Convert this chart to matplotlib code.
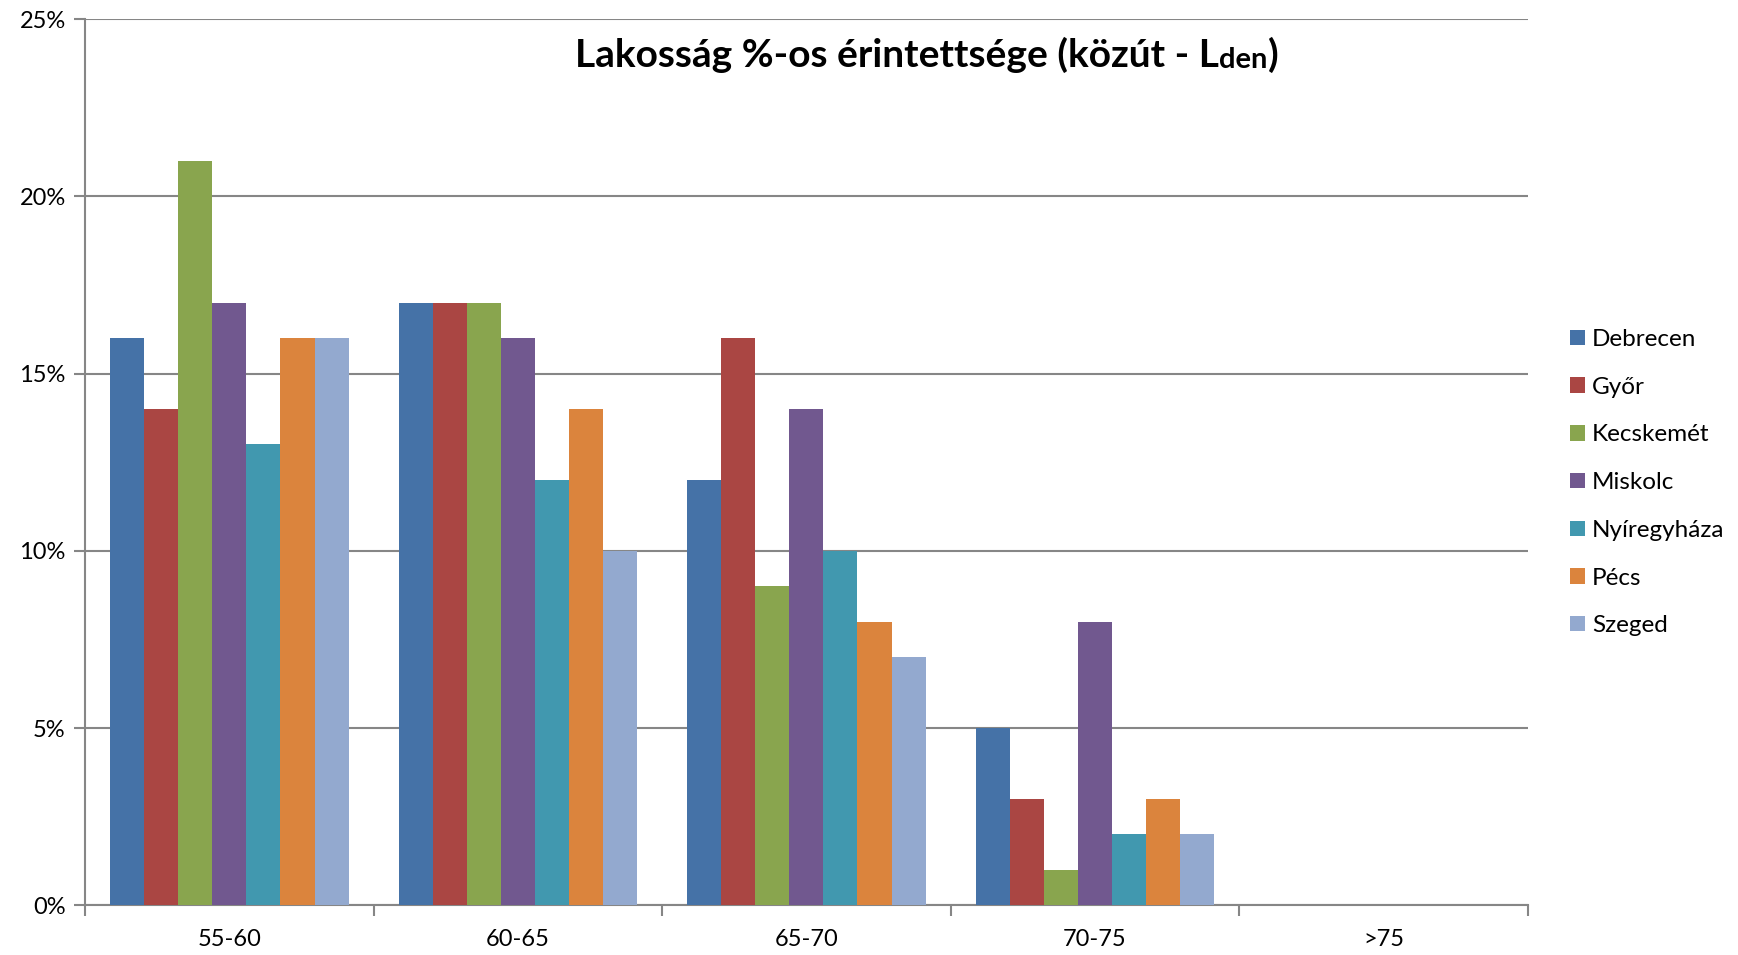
import matplotlib
matplotlib.use("Agg")
import matplotlib.pyplot as plt
import numpy as np

plt.rcParams["font.family"] = ["Lato", "DejaVu Sans"]

categories = ["55-60", "60-65", "65-70", "70-75", ">75"]
cities = ["Debrecen", "Győr", "Kecskemét", "Miskolc", "Nyíregyháza", "Pécs", "Szeged"]
values = {
    "Debrecen": [16, 17, 12, 5, 0],
    "Győr": [14, 17, 16, 3, 0],
    "Kecskemét": [21, 17, 9, 1, 0],
    "Miskolc": [17, 16, 14, 8, 0],
    "Nyíregyháza": [13, 12, 10, 2, 0],
    "Pécs": [16, 14, 8, 3, 0],
    "Szeged": [16, 10, 7, 2, 0],
}
colors = ["#4572A7", "#AA4643", "#89A54E", "#71588F", "#4198AF", "#DB843D", "#93A9CF"]

fig = plt.figure(figsize=(17.38, 9.55), dpi=100)
ax = fig.add_axes([0.049, 0.052, 0.830, 0.928])

x = np.arange(len(categories))
width = 0.118
for i, city in enumerate(cities):
    offs = (i - 3) * width
    ax.bar(x + offs, values[city], width, color=colors[i], label=city, zorder=3)

gray = "#868686"
ax.set_xlim(-0.5, len(categories) - 0.5)
ax.set_ylim(0, 25)
ax.set_yticks(range(0, 26, 5))
ax.set_yticklabels([f"{v}%" for v in range(0, 26, 5)], fontsize=17)
ax.yaxis.grid(True, color=gray, linewidth=1.5, zorder=0)
ax.set_xticks(x)
ax.set_xticklabels(categories, fontsize=17)
ax.set_xticks(np.arange(-0.5, len(categories)), minor=True)
ax.tick_params(axis="x", which="major", length=0, pad=17)
ax.tick_params(axis="x", which="minor", length=8, color=gray, width=1.5)
ax.tick_params(axis="y", length=8, color=gray, width=1.5, pad=6)
for s in ["top", "right"]:
    ax.spines[s].set_visible(False)
for s in ["left", "bottom"]:
    ax.spines[s].set_color(gray)
    ax.spines[s].set_linewidth(1.5)

# title with smaller "den"
t1 = fig.text(0.331, 0.930, "Lakosság %-os érintettsége (közút - L",
              fontsize=28, fontweight="bold", ha="left", va="baseline")
t2 = ax.annotate("den", xy=(1, 0), xycoords=t1, va="bottom", ha="left",
                 fontsize=21, fontweight="bold")
ax.annotate(")", xy=(1, 0), xycoords=t2, va="bottom", ha="left",
            fontsize=28, fontweight="bold")

ax.legend(loc="center left", bbox_to_anchor=(1.0, 0.477), frameon=False,
          fontsize=17.5, handlelength=0.6, handleheight=0.6, labelspacing=1.1,
          handletextpad=0.3, borderaxespad=1.35)

fig.savefig("out.png", dpi=100)
